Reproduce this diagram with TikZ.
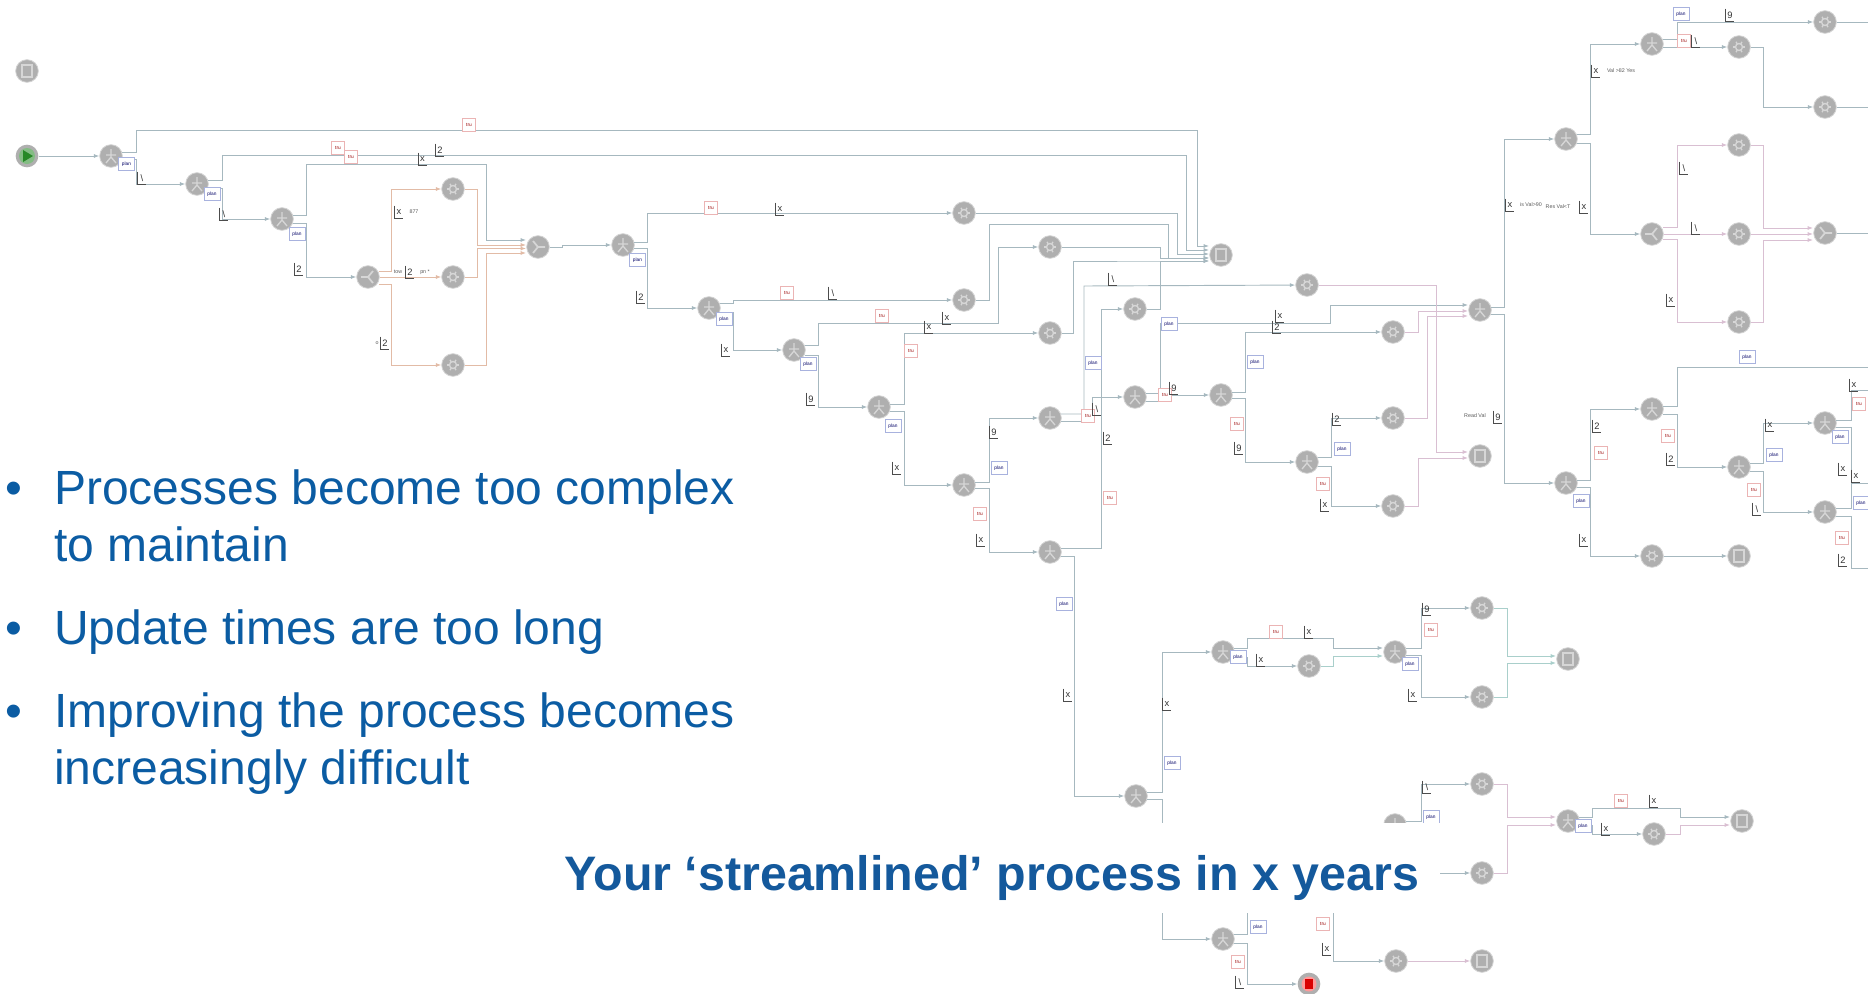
\documentclass[tikz,border=0pt]{standalone}
\usepackage{fontspec}
\setmainfont{Liberation Sans}
\usetikzlibrary{arrows.meta,calc}
\definecolor{flowc}{HTML}{A6B8BF}
\definecolor{tealc}{HTML}{A9CFCB}
\definecolor{orangec}{HTML}{E2BBA6}
\definecolor{pinkc}{HTML}{D9BFD2}
\definecolor{nodec}{HTML}{AFAFAF}
\definecolor{iconc}{HTML}{D6D6D6}
\definecolor{bodyc}{HTML}{0B5CA3}
\definecolor{titlec}{HTML}{14599C}
\definecolor{bluelab}{HTML}{A8B2DE}
\definecolor{pinklab}{HTML}{EBB4B4}
\newcount\mkc
\newcommand\LM[3]{\global\advance\mkc by 1
  \node[mk] (m\the\mkc) at (#1,#2) {#3};
  \draw[mkl] (m\the\mkc.north west) |- (m\the\mkc.south east);}
\newcommand\BL[2]{\global\advance\mkc by 1 \node[bluebox] (m\the\mkc) at (#1,#2) {plan};}
\newcommand\PL[2]{\global\advance\mkc by 1 \node[pinkbox] (m\the\mkc) at (#1,#2) {tru};}
\newcommand\TT[3]{\global\advance\mkc by 1 \node[tinytext] (m\the\mkc) at (#1,#2) {#3};}
\newcommand\Ent[2]{($(#1)+(-12,#2)$)}
\newcommand\LK[5][]{\draw[flow,#1] (#2) ++(11,#3) -| (#4,0 |- #5) -- (#5);}
\tikzset{
  x=0.75pt,y=-0.75pt,
  flow/.style={draw=flowc,line width=0.7pt,-{Latex[length=4pt,width=3pt]}},
  plainflow/.style={draw=flowc,line width=0.7pt},
  oflow/.style={draw=orangec},
  pflow/.style={draw=pinkc},
  tflow/.style={draw=tealc},
  base/.style={circle,fill=nodec,draw=nodec!55,line width=0.6pt,minimum size=17pt,inner sep=0pt},
  tasknode/.style={base,path picture={\begin{scope}[shift={(path picture bounding box.center)}]
    \draw[iconc,line width=1pt] (0,0) circle (3.5);
    \foreach \a in {0,60,...,300}{\draw[iconc,line width=1pt] (\a:3.5) -- (\a:6);}
    \end{scope}}},
  gatenode/.style={base,path picture={\begin{scope}[shift={(path picture bounding box.center)}]
    \draw[iconc,line width=1pt] (0,-7) -- (0,1) -- (-5,7) (0,1) -- (5,7) (-5,-1) -- (5,-1);
    \end{scope}}},
  splitnode/.style={base,path picture={\begin{scope}[shift={(path picture bounding box.center)}]
    \draw[iconc,line width=1.3pt] (-7,0) -- (0,0) -- (5,-6) (0,0) -- (5,6);
    \end{scope}}},
  mergenode/.style={base,path picture={\begin{scope}[shift={(path picture bounding box.center)}]
    \draw[iconc,line width=1.3pt] (7,0) -- (0,0) -- (-5,-6) (0,0) -- (-5,6);
    \end{scope}}},
  endnode/.style={base,path picture={\begin{scope}[shift={(path picture bounding box.center)}]
    \draw[iconc,line width=1pt] (-5,-6) rectangle (5,6);
    \end{scope}}},
  startnode/.style={circle,fill=nodec,minimum size=17pt,inner sep=0pt,path picture={\begin{scope}[shift={(path picture bounding box.center)}]
    \fill[green!30!gray!75] (0,0) circle (8);
    \fill[green!45!black!85] (-4,-6) -- (6,0) -- (-4,6) -- cycle;
    \end{scope}}},
  stopnode/.style={circle,fill=nodec,minimum size=17pt,inner sep=0pt,path picture={\begin{scope}[shift={(path picture bounding box.center)}]
    \fill[red!40] (0,0) circle (7.5);
    \fill[red!85!black] (-4,-5) rectangle (4,5);
    \end{scope}}},
  mk/.style={font=\fontsize{7}{8}\selectfont,inner sep=0.4pt,minimum width=6pt,minimum height=9pt,text=black!80},
  mkl/.style={draw=black!70,line width=0.45pt},
  bluebox/.style={draw=bluelab,fill=white,line width=0.5pt,minimum width=12pt,minimum height=10pt,inner sep=0pt,font=\fontsize{3.6}{4}\selectfont,text=blue!40!black},
  pinkbox/.style={draw=pinklab,fill=white,line width=0.5pt,minimum width=10pt,minimum height=10pt,inner sep=0pt,font=\fontsize{3.6}{4}\selectfont,text=red!60!black},
  tinytext/.style={font=\fontsize{4}{4.5}\selectfont,inner sep=0pt,text=black!65},
  bodytext/.style={font=\fontsize{36}{40}\selectfont,text=bodyc,anchor=base west,inner sep=0pt},
  titletext/.style={font=\fontsize{36.3}{40}\selectfont\bfseries,text=titlec,inner sep=0pt},
}
\begin{document}
\begin{tikzpicture}
\useasboundingbox (0,0) rectangle (1868,993);
% nodes
\node[endnode] (trash) at (27,71) {};
\node[startnode] (start) at (27,156) {};
\node[gatenode] (n1) at (111,156) {};
\node[gatenode] (n2) at (197,184) {};
\node[gatenode] (n3) at (282,219) {};
\node[splitnode] (s1) at (368,277) {};
\node[tasknode] (o1) at (453,189) {};
\node[tasknode] (o2) at (453,277) {};
\node[tasknode] (o3) at (453,365) {};
\node[mergenode] (m1) at (538,247) {};
\node[gatenode] (n4) at (623,245) {};
\node[tasknode] (t1) at (964,213) {};
\node[gatenode] (n5) at (709,308) {};
\node[tasknode] (t2) at (964,300) {};
\node[gatenode] (n6) at (794,350) {};
\node[tasknode] (t3) at (1050,247) {};
\node[gatenode] (n7) at (879,407) {};
\node[tasknode] (t4) at (1050,333) {};
\node[gatenode] (n8) at (964,485) {};
\node[gatenode] (n9) at (1050,418) {};
\node[gatenode] (n10) at (1050,552) {};
\node[tasknode] (t5) at (1135,309) {};
\node[gatenode] (n11) at (1135,397) {};
\node[gatenode] (n12) at (1221,395) {};
\node[endnode] (end1) at (1221,255) {};
\node[tasknode] (t6) at (1307,285) {};
\node[gatenode] (n13) at (1480,310) {};
\node[tasknode] (t7) at (1393,332) {};
\node[gatenode] (n14) at (1566,139) {};
\node[gatenode] (n15) at (1652,44) {};
\node[tasknode] (t8) at (1739,47) {};
\node[tasknode] (t9) at (1825,22) {};
\node[tasknode] (t10) at (1825,107) {};
\node[splitnode] (s2) at (1652,234) {};
\node[tasknode] (t11) at (1739,145) {};
\node[tasknode] (t12) at (1739,234) {};
\node[tasknode] (t13) at (1739,322) {};
\node[mergenode] (m2) at (1825,233) {};
\node[gatenode] (n16) at (1307,462) {};
\node[tasknode] (t14) at (1393,418) {};
\node[tasknode] (t15) at (1393,506) {};
\node[endnode] (end2) at (1480,456) {};
\node[gatenode] (n17) at (1566,483) {};
\node[gatenode] (n18) at (1652,409) {};
\node[tasknode] (n19) at (1652,556) {};
\node[endnode] (end3) at (1739,556) {};
\node[gatenode] (n20) at (1739,467) {};
\node[gatenode] (n21) at (1825,423) {};
\node[gatenode] (n22) at (1825,512) {};
\node[gatenode] (n23) at (1136,796) {};
\node[gatenode] (n24) at (1223,652) {};
\node[tasknode] (t16) at (1309,666) {};
\node[gatenode] (n25) at (1395,652) {};
\node[tasknode] (t17) at (1482,608) {};
\node[tasknode] (t18) at (1482,697) {};
\node[endnode] (end4) at (1568,659) {};
\node[gatenode] (n26) at (1395,825) {};
\node[tasknode] (t19) at (1482,784) {};
\node[tasknode] (t20) at (1482,873) {};
\node[gatenode] (n27) at (1568,821) {};
\node[tasknode] (t21) at (1654,834) {};
\node[endnode] (end5) at (1742,821) {};
\node[gatenode] (n28) at (1223,939) {};
\node[tasknode] (t22) at (1396,961) {};
\node[endnode] (end6) at (1482,961) {};
\node[stopnode] (stop) at (1309,984) {};
\coordinate (edgeA) at (1868,22);
\coordinate (edgeB) at (1868,107);
\coordinate (edgeC) at (1868,233);
\coordinate (edgeD) at (1868,367);
\coordinate (edgeE) at (1868,390);
\coordinate (edgeF) at (1868,483);
\coordinate (edgeG) at (1868,568);
\coordinate (hidA) at (1400,873);
\coordinate (hidB) at (1333,880);
\coordinate (hidC) at (1247,880);
% connectors, top-left part
\draw[flow] (start) -- (n1);
\draw[flow] (n1) ++(11,-4) -- (136,152) -- (136,130) -- (1197,130) |- \Ent{end1}{-9};
\draw[flow] (n1) ++(11,3) -- (136,159) |- (n2);
\draw[flow] (n2) ++(11,-4) -- (222,180) -- (222,155) -- (1186,155) |- \Ent{end1}{-5};
\draw[flow] (n2) ++(11,4) -- (222,188) |- (n3);
\draw[flow] (n3) ++(11,-4) -- (306,215) -- (306,164) -- (486,164) |- \Ent{m1}{-7};
\LK{n3}{4}{306}{s1}
\draw[flow,oflow] (s1) ++(11,-6) -- (391,271) |- (o1);
\draw[flow,oflow] (s1) -- (o2);
\draw[flow,oflow] (s1) ++(11,7) -- (391,284) |- (o3);
\draw[flow,oflow] (o1) -- (477,189) |- \Ent{m1}{-2};
\draw[flow,oflow] (o2) -- (477,277) |- \Ent{m1}{1.5};
\draw[flow,oflow] (o3) -- (486,365) |- \Ent{m1}{6};
\draw[flow] (m1) -- (562,247) -- (562,245) -- (n4);
\LK{n4}{-3}{647}{t1}
\LK{n4}{3}{647}{n5}
\draw[flow] (t1) -- (1177,213) |- \Ent{end1}{-1};
\LK{n5}{-5}{733}{t2}
\LK{n5}{4}{733}{n6}
\draw[flow] (t2) -- (989,300) -- (989,224) -- (1168,224) |- \Ent{end1}{3};
\draw[flow] (n6) ++(11,-5) -- (818,345) -- (818,323) -- (998,323) -- (998,247) -- (t3);
\LK{n6}{5}{818}{n7}
\draw[flow] (t3) -- (1160,247) |- \Ent{end1}{3};
\LK{n7}{-3}{904}{t4}
\LK{n7}{4}{904}{n8}
\draw[flow] (t4) -- (1073,333) -- (1073,261) -- (1160,261) -- \Ent{end1}{6};
\LK{n8}{-3}{989}{n9}
\LK{n8}{3}{989}{n10}
\draw[flow] (n9) ++(11,-4) -- (1084,414) -- (1084,286) -- (t6);
\LK{n9}{3}{1092}{n11}
\LK{n10}{-4}{1101}{t5}
\draw[flow] (t5) -- (1160,309) -- (1160,261) -- \Ent{end1}{6};
\draw[flow] (n11) ++(11,-4) -- (1160,393) -- (1160,323) -- (1330,323) -- (1330,305) -- \Ent{n13}{-5};
\LK{n11}{4}{1168}{n12}
\draw[flow] (n10) ++(11,4) -- (1074,556) |- (n23);
% connectors, centre
\LK{n12}{-3}{1245}{t7}
\LK{n12}{3}{1245}{n16}
\LK{n16}{-5}{1331}{t14}
\LK{n16}{4}{1331}{t15}
\draw[flow,pflow] (t6) -- (1436,285) |- \Ent{end2}{-4};
\draw[flow,pflow] (t14) -- (1427,418) -- (1427,316) -- \Ent{n13}{6};
\draw[flow,pflow] (t15) -- (1418,506) |- \Ent{end2}{2};
\draw[flow,pflow] (t7) -- (1418,332) |- \Ent{n13}{1};
\draw[flow] (n13) ++(11,-3) -- (1504,307) |- (n14);
\draw[flow] (n13) ++(11,4) -- (1504,314) |- (n17);
% connectors, top right
\LK{n14}{-5}{1590}{n15}
\LK{n14}{4}{1590}{s2}
\LK{n15}{-5}{1677}{t9}
\draw[flow] (n15) ++(11,3) -- (t8);
\draw[flow] (t8) -- (1763,47) |- (t10);
\draw[plainflow] (t9) -- (edgeA);
\draw[plainflow] (t10) -- (edgeB);
\LK[pflow]{s2}{-7}{1677}{t11}
\draw[flow,pflow] (s2) -- (t12);
\LK[pflow]{s2}{5}{1677}{t13}
\draw[flow,pflow] (t11) -- (1763,145) |- \Ent{m2}{-5};
\draw[flow,pflow] (t12) -- \Ent{m2}{1};
\draw[flow,pflow] (t13) -- (1763,322) |- \Ent{m2}{7};
\draw[plainflow] (m2) -- (edgeC);
% connectors, right middle
\LK{n17}{-3}{1590}{n18}
\LK{n17}{4}{1590}{n19}
\draw[flow] (n19) -- (end3);
\draw[plainflow] (n18) ++(11,-3) -- (1677,406) |- (edgeD);
\LK{n18}{5}{1677}{n20}
\LK{n20}{-4}{1763}{n21}
\LK{n20}{4}{1763}{n22}
\draw[plainflow] (n21) ++(11,-3) -- (1851,420) |- (edgeE);
\draw[plainflow] (n21) ++(11,4) -- (1851,427) |- (edgeF);
\draw[plainflow] (n22) ++(11,-4) -- (1851,508) |- (edgeF);
\draw[plainflow] (n22) ++(11,4) -- (1851,516) |- (edgeG);
% connectors, lower part
\LK{n23}{-4}{1162}{n24}
\LK{n23}{3}{1162}{n28}
\draw[flow] (n24) ++(11,-4) -- (1247,648) -- (1247,638) -- (1333,638) |- \Ent{n25}{-4};
\LK{n24}{5}{1247}{t16}
\draw[flow,tflow] (t16) -- (1333,666) |- \Ent{n25}{4};
\LK{n25}{-4}{1421}{t17}
\LK{n25}{3}{1421}{t18}
\draw[flow,tflow] (t17) -- (1507,608) |- \Ent{end4}{-3};
\draw[flow,tflow] (t18) -- (1507,697) |- \Ent{end4}{4};
\LK{n26}{-4}{1421}{t19}
\draw[flow,pflow] (t19) -- (1507,784) |- \Ent{n27}{-4};
\draw[flow,pflow] (t20) -- (1507,873) |- \Ent{n27}{4};
\draw[flow] (hidA) -- (t20);
\draw[flow] (n27) ++(11,-4) -- (1592,817) -- (1592,808) -- (1680,808) |- \Ent{end5}{-4};
\LK{n27}{4}{1592}{t21}
\draw[flow,pflow] (t21) -- (1680,834) |- \Ent{end5}{4};
\draw[plainflow] (n28) ++(11,-5) -- (1247,934) |- (hidC);
\LK{n28}{4}{1247}{stop}
\draw[flow] (hidB) -- (1333,961) -- (t22);
\draw[flow,pflow] (t22) -- (end6);
% blue boxes
\BL{126.5}{164}\BL{212}{194}\BL{297}{234}\BL{637.5}{260}\BL{724}{319}\BL{808}{364}\BL{893}{426}\BL{999}{468}\BL{1093}{363}\BL{1169}{324}
\BL{1681}{14}\BL{1255}{362}\BL{1342}{449}\BL{1747}{357}\BL{1581}{501}\BL{1774}{455}\BL{1840}{437}\BL{1861}{503}
\BL{1064}{604}\BL{1172}{763}\BL{1238}{657}\BL{1410}{664}\BL{1431}{817}\BL{1583}{826}\BL{1258}{927}
% pink boxes
\PL{469}{125}\PL{338}{148}\PL{351}{157}\PL{711}{208}\PL{787}{293}\PL{882}{316}\PL{911}{351}\PL{980}{514}\PL{1110}{498}\PL{1088}{416}\PL{1165}{395}
\PL{1684}{41}\PL{1237}{424}\PL{1323}{484}\PL{1601}{453}\PL{1668}{436}\PL{1754}{490}\PL{1859}{404}\PL{1842}{538}
\PL{1276}{632}\PL{1431}{630}\PL{1621}{801}\PL{1238}{962}\PL{1323}{924}
% marks
\LM{142}{178}{\textbackslash}\LM{224}{214}{\textbackslash}\LM{422.5}{159}{x}\LM{440}{150}{2}\LM{299}{269}{2}\LM{399}{212}{x}\LM{410}{272}{2}\LM{385}{343}{2}
\LM{780}{209}{x}\LM{641}{297}{2}\LM{833}{293}{\textbackslash}\LM{726}{350}{x}\LM{947}{318}{x}\LM{929}{327}{x}\LM{811}{399}{9}\LM{897}{468}{x}\LM{994}{432}{9}\LM{981}{540}{x}
\LM{1113}{279}{\textbackslash}\LM{1097}{409}{\textbackslash}\LM{1108}{438}{2}\LM{1174}{388}{9}\LM{1239}{448}{9}
\LM{1730}{15}{9}\LM{1696}{41}{\textbackslash}\LM{1596}{71}{x}\LM{1510}{205}{x}\LM{1584}{207}{x}\LM{1684}{168}{\textbackslash}\LM{1696}{228}{\textbackslash}\LM{1671}{300}{x}\LM{1280}{316}{x}\LM{1277}{327}{2}
\LM{1337}{419}{2}\LM{1325}{505}{x}\LM{1498}{417}{9}\LM{1597}{426}{2}\LM{1584}{540}{x}\LM{1671}{459}{2}\LM{1770}{425}{x}\LM{1757}{509}{\textbackslash}\LM{1854}{385}{x}\LM{1843}{469}{x}\LM{1856}{476}{x}\LM{1843}{560}{2}
\LM{1068}{695}{x}\LM{1167}{704}{x}\LM{1309}{632}{x}\LM{1261}{660}{x}\LM{1427}{609}{9}\LM{1413}{695}{x}\LM{1427}{787}{\textbackslash}\LM{1654}{801}{x}\LM{1606}{829}{x}\LM{1240}{982}{\textbackslash}\LM{1327}{949}{x}
% tiny texts
\TT{414}{212}{877}\TT{398}{272}{tow}\TT{425}{272}{pn *}\TT{377}{343}{o}
\TT{1621}{71}{Val >82 Yes}\TT{1531}{205}{is Val>90}\TT{1558}{207}{Res Val<T}\TT{1475}{416}{Read Val}
% banner covering part of the process
\fill[white] (560,823) rectangle (1440,913);
\node[titletext] (title) at (992,878) {Your ‘streamlined’ process in x years};
% bullets
\node[bodytext] (b1) at (54,504) {Processes become too complex};
\node[bodytext] (b1b) at (54,561) {to maintain};
\node[bodytext] (b2) at (54,644) {Update times are too long};
\node[bodytext] (b3) at (54,727) {Improving the process becomes};
\node[bodytext] (b3b) at (54,784) {increasingly difficult};
\node[bodytext] (d1) at (5,504) {•};
\node[bodytext] (d2) at (5,644) {•};
\node[bodytext] (d3) at (5,727) {•};
\end{tikzpicture}
\end{document}
